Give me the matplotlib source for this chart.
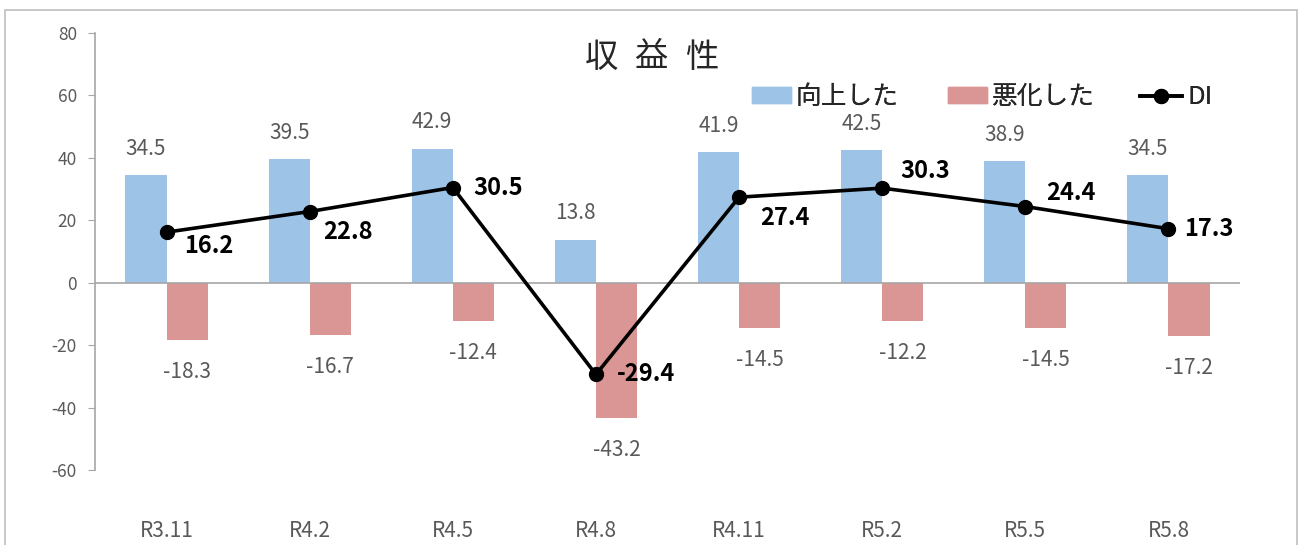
import matplotlib
matplotlib.use("Agg")
import matplotlib.pyplot as plt
import numpy as np
from matplotlib.patches import Rectangle
from matplotlib.lines import Line2D
from matplotlib.patches import Patch

plt.rcParams['font.family'] = ['Noto Sans CJK JP', 'DejaVu Sans']

categories = ["R3.11", "R4.2", "R4.5", "R4.8", "R4.11", "R5.2", "R5.5", "R5.8"]
improved = [34.5, 39.5, 42.9, 13.8, 41.9, 42.5, 38.9, 34.5]
worsened = [-18.3, -16.7, -12.4, -43.2, -14.5, -12.2, -14.5, -17.2]
di = [16.2, 22.8, 30.5, -29.4, 27.4, 30.3, 24.4, 17.3]
yticks = [80, 60, 40, 20, 0, -20, -40, -60]
title_chars = ["収", "益", "性"]
series_names = ["向上した", "悪化した", "DI"]

# label offsets for DI labels (points)
di_offsets = [(13, -10), (10, -15), (15, 0), (15, 0), (15, -15), (13, 12), (15, 10), (11, 0)]

blue = "#9DC3E6"
red = "#DA9694"
gray = "#595959"

fig = plt.figure(figsize=(13, 5.45), dpi=100)
fig.patches.append(Rectangle((5/1300, -0.1), 1292/1300, 1.1 - 10/545, transform=fig.transFigure,
                             fill=False, edgecolor="#BFBFBF", linewidth=1.2))
ax = fig.add_axes([95/1300, 1-470/545, 1145/1300, 437/545])

x = np.arange(len(categories))
w = 0.287
ax.bar(x - w/2, improved, width=w, color=blue)
ax.bar(x + w/2, worsened, width=w, color=red)
ax.plot(x, di, color="black", lw=2.6, marker="o", markersize=10, zorder=5)

for xi, v in zip(x, improved):
    ax.annotate(f"{v}", (xi - w/2, v), xytext=(0, 19), textcoords="offset points",
                ha="center", va="center", fontsize=15, color=gray)
for xi, v in zip(x, worsened):
    ax.annotate(f"{v}", (xi + w/2, v), xytext=(0, -23), textcoords="offset points",
                ha="center", va="center", fontsize=15, color=gray)
for xi, v, off in zip(x, di, di_offsets):
    ax.annotate(f"{v}", (xi, v), xytext=off, textcoords="offset points",
                ha="left", va="center", fontsize=17, color="black", fontweight="bold")

ax.axhline(0, color="#A6A6A6", lw=1.2, zorder=1)
ax.set_xlim(-0.5, len(categories) - 0.5)
ax.set_ylim(-60, 80)
ax.set_yticks(yticks)
ax.set_yticklabels([str(t) for t in yticks], color=gray, fontsize=12.5)
ax.set_xticks(x)
ax.set_xticklabels(categories, color=gray, fontsize=15)
ax.tick_params(axis='x', length=0, pad=36)
ax.tick_params(axis='y', length=5, color="#A6A6A6", pad=8)
for s in ["top", "right", "bottom"]:
    ax.spines[s].set_visible(False)
ax.spines["left"].set_color("#A6A6A6")
ax.spines["left"].set_linewidth(1.2)

for cx, ch in zip([602, 651, 702], title_chars):
    fig.text(cx/1300, 1-57/545, ch, ha="center", va="center", fontsize=24, color="#262626")

handles = [Patch(color=blue), Patch(color=red),
           Line2D([0], [0], color="black", lw=2.6, marker="o", markersize=10)]
leg_x = [752, 948, 1140]
hlens = [1.5, 1.5, 1.65]
for h, name, lx, hl in zip(handles, series_names, leg_x, hlens):
    lg = fig.legend([h], [name], loc="center left", bbox_to_anchor=(lx/1300, 1-97/545),
                    frameon=False, fontsize=18.5, borderpad=0, borderaxespad=0,
                    handlelength=hl, handleheight=0.55, handletextpad=0.2,
                    labelcolor="#262626")
    fig.add_artist(lg)

fig.savefig("out.png", dpi=100)
